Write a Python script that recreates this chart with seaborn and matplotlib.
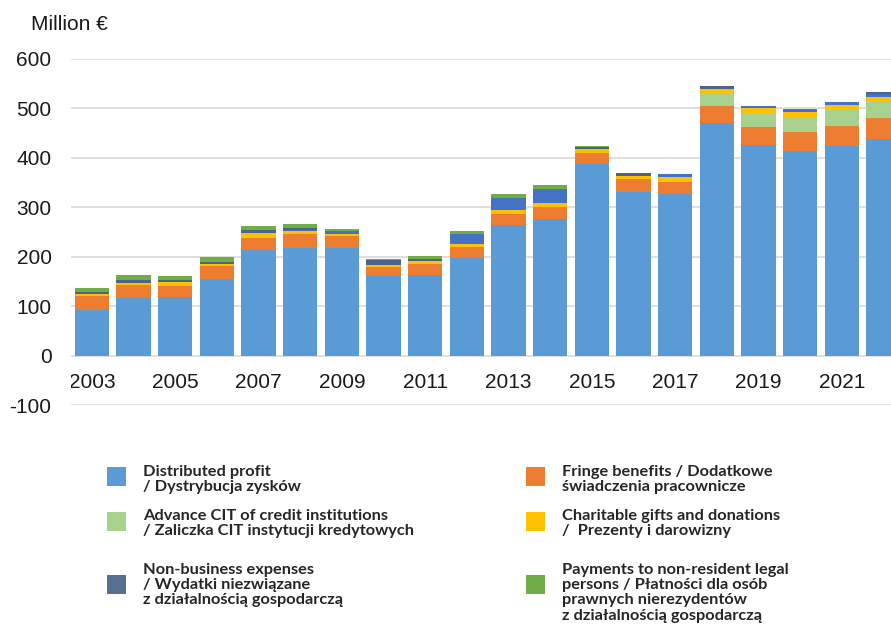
import matplotlib
matplotlib.use("Agg")
import matplotlib.pyplot as plt
from matplotlib.patches import Rectangle
import numpy as np
import pandas as pd
import seaborn as sns

# ---- data (million EUR) ----
years = list(range(2003, 2023))
distributed_profit = [93, 116, 118, 155, 213, 218, 218, 160, 164, 197,
                      265, 276, 387, 331, 326, 470, 426, 414, 424, 439]
fringe_benefits = [27, 27, 23, 26, 25, 27, 23, 19, 21, 22,
                   21, 25, 23, 26, 25, 34, 37, 39, 40, 42]
advance_cit = [0, 0, 0, 0, 0, 0, 0, 0, 0, 0,
               0, 0, 0, 0, 0, 27, 28, 30, 34, 34]
charitable_gifts = [5, 4, 7, 5, 9, 7, 5, 5, 6, 7,
                    9, 8, 7, 7, 10, 8, 9, 9, 9, 9]
other_items = [0, 0, 0, 0, 0, 3, 6, 0, 0, 20,
               24, 27, 0, 0, 6, 0, 5, 6, 6, 5]
non_business = [3, 6, 5, 4, 7, 4, 0, 10, 5, 0,
                0, 0, 5, 6, 0, 6, 0, 0, 0, 4]
non_resident_payments = [9, 9, 7, 10, 8, 7, 5, 1, 5, 6,
                         7, 9, 1, 0, 0, 0, 0, 0, 0, 0]

year_labels = [str(y) for y in years]
y_ticks = [-100, 0, 100, 200, 300, 400, 500, 600]

# stack order, bottom to top
layers = [
    (distributed_profit, "#5B9BD5"),
    (fringe_benefits, "#ED7D31"),
    (advance_cit, "#A9D18E"),
    (charitable_gifts, "#FFC000"),
    (other_items, "#4472C4"),
    (non_business, "#4F6385"),
    (non_resident_payments, "#70AD47"),
]

legend_items = [
    # (x_square, y_square_top, color, lines)
    (107, 467, "#5B9BD5", ["Distributed profit", "/ Dystrybucja zysków"]),
    (107, 512, "#A9D18E", ["Advance CIT of credit institutions",
                           "/ Zaliczka CIT instytucji kredytowych"]),
    (107, 575, "#56708F", ["Non-business expenses", "/ Wydatki niezwiązane",
                           "z działalnością gospodarczą"]),
    (526, 467, "#ED7D31", ["Fringe benefits / Dodatkowe",
                           "świadczenia pracownicze"]),
    (526, 512, "#FFC000", ["Charitable gifts and donations",
                           "/  Prezenty i darowizny"]),
    (526, 575, "#70AD47", ["Payments to non-resident legal",
                           "persons / Płatności dla osób",
                           "prawnych nierezydentów",
                           "z działalnością gospodarczą"]),
]
legend_first_baseline = {467: 476, 512: 520, 575: 574}

sns.set_style("white")
plt.rcParams["font.family"] = ["Liberation Sans", "DejaVu Sans"]

W, H = 891, 624
fig = plt.figure(figsize=(W / 100, H / 100), dpi=100)
ax = fig.add_axes([71 / W, 1 - 405 / H, (W - 71) / W, (405 - 59) / H])

# cumulative totals, drawn from the top layer down so each lower layer covers the one above
cum = np.cumsum(np.array([l[0] for l in layers], dtype=float), axis=0)
for k in range(len(layers) - 1, -1, -1):
    df = pd.DataFrame({"year": year_labels, "value": cum[k]})
    sns.barplot(data=df, x="year", y="value", order=year_labels,
                color=layers[k][1], saturation=1, width=0.82,
                linewidth=0, ax=ax, zorder=2)

ax.set_xlim(-0.5, (W - 71) / 41.67 - 0.5)
ax.set_ylim(-100, 600)
ax.set_yticks(y_ticks)
ax.set_yticklabels([str(v) for v in y_ticks])
ax.set_xticks([])
ax.set_xlabel("")
ax.set_ylabel("")
ax.tick_params(axis="y", length=0, pad=14, labelsize=15, labelcolor="#1a1a1a")
ax.grid(axis="y", color="#D9D9D9", linewidth=1.2)
ax.set_axisbelow(True)
for s in ax.spines.values():
    s.set_visible(False)

# year labels, every other year, sitting between the 0 and -100 lines
for i, lab in enumerate(year_labels):
    if i % 2 == 0:
        ax.text(i, -55, lab, ha="center", va="center", fontsize=15,
                color="#1a1a1a", clip_on=True)

fig.text(31 / W, 1 - 25 / H, "Million €", ha="left", va="center",
         fontsize=15, color="#1a1a1a")

# legend
for xs, ys, col, lines in legend_items:
    fig.add_artist(Rectangle((xs / W, 1 - (ys + 19) / H), 19 / W, 19 / H,
                             transform=fig.transFigure, facecolor=col,
                             edgecolor="none"))
    base = legend_first_baseline[ys]
    for j, line in enumerate(lines):
        fig.text((xs + 36) / W, 1 - (base + 15.2 * j) / H, line,
                 ha="left", va="baseline", fontsize=11.8,
                 fontfamily=["Lato", "DejaVu Sans"], fontweight="bold",
                 color="#262626")

fig.savefig("out.png", dpi=100)
